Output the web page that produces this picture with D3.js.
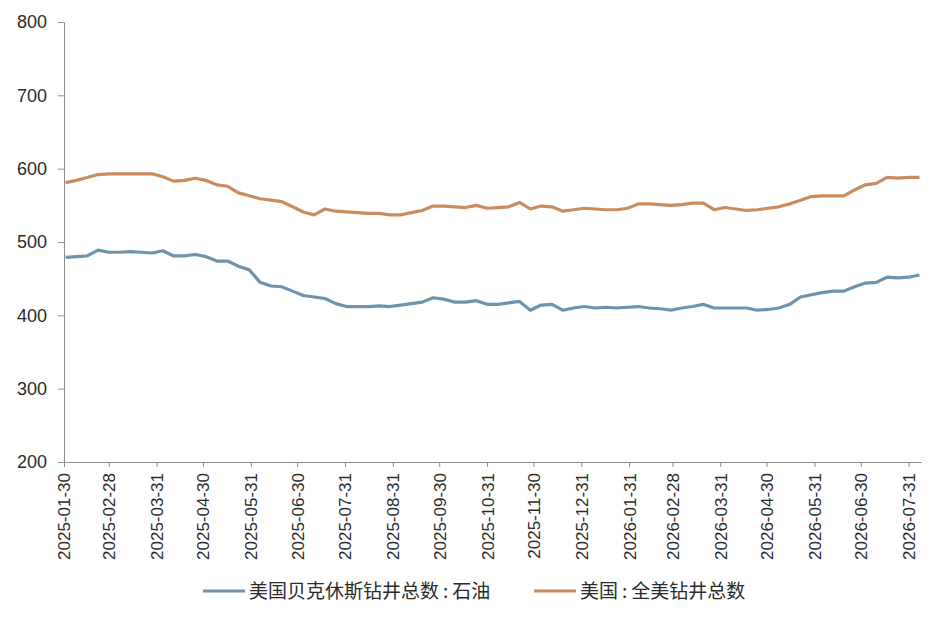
<!DOCTYPE html>
<html>
<head>
<meta charset="utf-8">
<script src="https://cdn.jsdelivr.net/npm/d3@7.9.0/dist/d3.min.js"></script>
<style>
  body { margin: 0; background: #fff; }
  svg { display: block; }
</style>
</head>
<body>
<div id="chart"></div>
<script>
// weekly dates, first Friday 2025-01-31
const startDate = '2025-01-31';
const weekCount = 80;

const seriesNames = ['美国贝克休斯钻井总数:石油', '美国:全美钻井总数'];

const oilRigs = [
  479, 480, 481, 489, 486, 486, 487, 486, 485, 488,
  481, 481, 483, 480, 474, 474, 467, 462, 445, 440,
  439, 433, 427, 425, 423, 416, 412, 412, 412, 413,
  412, 414, 416, 418, 424, 422, 418, 418, 420, 415,
  415, 417, 419, 407, 414, 415, 407, 410, 412, 410,
  411, 410, 411, 412, 410, 409, 407, 410, 412, 415,
  410, 410, 410, 410, 407, 408, 410, 415, 425, 428,
  431, 433, 433, 439, 444, 445, 452, 451, 452, 455
];

const totalRigs = [
  581, 584, 588, 592, 593, 593, 593, 593, 593, 589,
  583, 584, 587, 584, 578, 576, 567, 563, 559, 557,
  555, 548, 541, 537, 545, 542, 541, 540, 539, 539,
  537, 537, 540, 543, 549, 549, 548, 547, 550, 546,
  547, 548, 554, 545, 549, 548, 542, 544, 546, 545,
  544, 544, 546, 552, 552, 551, 550, 551, 553, 553,
  544, 547, 545, 543, 544, 546, 548, 552, 557, 562,
  563, 563, 563, 571, 578, 580, 588, 587, 588, 588
];

const xTickLabels = [
  '2025-01-30', '2025-02-28', '2025-03-31', '2025-04-30', '2025-05-31',
  '2025-06-30', '2025-07-31', '2025-08-31', '2025-09-30', '2025-10-31',
  '2025-11-30', '2025-12-31', '2026-01-31', '2026-02-28', '2026-03-31',
  '2026-04-30', '2026-05-31', '2026-06-30', '2026-07-31'
];
const yTicks = [200, 300, 400, 500, 600, 700, 800];

const colors = ['#7093ad', '#c98c5f'];

const width = 944;
const height = 619;
const margin = { top: 22, right: 23, bottom: 157, left: 64 };

const parse = d3.utcParse('%Y-%m-%d');
const dates = d3.range(weekCount).map(i => d3.utcDay.offset(parse(startDate), i * 7));

const xScale = d3.scaleUtc()
  .domain([parse('2025-01-30'), parse('2026-08-08')])
  .range([margin.left, width - margin.right]);

const yScale = d3.scaleLinear()
  .domain([200, 800])
  .range([height - margin.bottom, margin.top]);

const svg = d3.select('#chart')
  .append('svg')
  .attr('width', width)
  .attr('height', height);

// y axis
const yAxis = svg.append('g')
  .attr('transform', `translate(${margin.left}, 0)`)
  .call(d3.axisLeft(yScale).tickValues(yTicks).tickSize(6).tickPadding(11).tickSizeOuter(0));

// x axis
const xAxis = svg.append('g')
  .attr('transform', `translate(0, ${height - margin.bottom})`)
  .call(d3.axisBottom(xScale)
    .tickValues(xTickLabels.map(parse))
    .tickFormat(d3.utcFormat('%Y-%m-%d'))
    .tickSize(5)
    .tickSizeOuter(0));

svg.selectAll('.domain, .tick line').attr('stroke', '#8c8c8c');

yAxis.selectAll('text')
  .attr('fill', '#2b2b2b')
  .style('font-family', '"Liberation Sans", Arial, sans-serif')
  .style('font-size', '18px');

xAxis.selectAll('text')
  .attr('fill', '#2b2b2b')
  .style('font-family', '"Liberation Sans", Arial, sans-serif')
  .style('font-size', '17px')
  .attr('text-anchor', 'end')
  .attr('transform', 'rotate(-90)')
  .attr('x', -11)
  .attr('y', 0)
  .attr('dy', '0.35em');

// lines
const series = [oilRigs, totalRigs];
const line = d3.line()
  .x((d, i) => xScale(dates[i]))
  .y(d => yScale(d));

series.forEach((values, k) => {
  svg.append('path')
    .datum(values)
    .attr('fill', 'none')
    .attr('stroke', colors[k])
    .attr('stroke-width', 3.2)
    .attr('stroke-linejoin', 'round')
    .attr('d', line);
});

// legend
const legendX = [203, 534];
const legendY = 591;
const legend = svg.append('g');
seriesNames.forEach((name, k) => {
  legend.append('line')
    .attr('x1', legendX[k]).attr('x2', legendX[k] + 42)
    .attr('y1', legendY).attr('y2', legendY)
    .attr('stroke', colors[k])
    .attr('stroke-width', 3.2);
  const text = legend.append('text')
    .attr('x', legendX[k] + 46)
    .attr('y', legendY)
    .attr('dy', '0.35em')
    .attr('fill', '#2b2b2b')
    .style('font-family', '"Noto Sans CJK SC", sans-serif')
    .style('font-size', '19px');
  // colon drawn with a little room on both sides, as in the original
  const [before, after] = name.split(':');
  text.append('tspan').text(before);
  text.append('tspan').attr('dx', 4).text(':');
  text.append('tspan').attr('dx', 4).text(after);
});
</script>
</body>
</html>
